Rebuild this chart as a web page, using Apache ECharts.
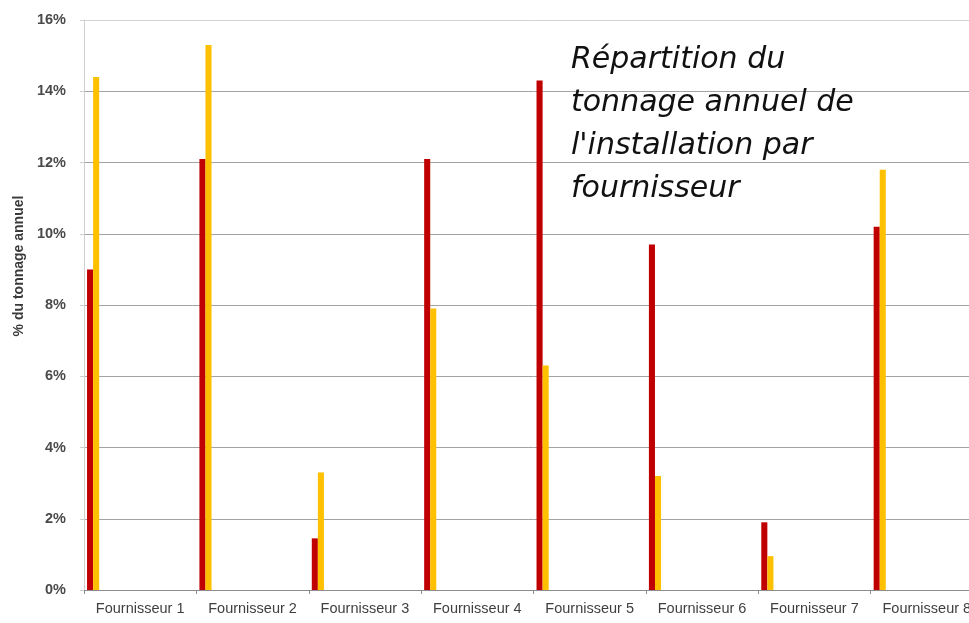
<!DOCTYPE html>
<html>
<head>
<meta charset="utf-8">
<script src="https://cdn.jsdelivr.net/npm/echarts@6/dist/echarts.min.js"></script>
<style>
html,body{margin:0;padding:0;background:#fff;overflow:hidden;width:969px;height:623px;}
#chart{width:1000px;height:623px;}
</style>
</head>
<body>
<div id="chart"></div>
<script>
var categories = ['Fournisseur 1','Fournisseur 2','Fournisseur 3','Fournisseur 4','Fournisseur 5','Fournisseur 6','Fournisseur 7','Fournisseur 8'];
var seriesRed = [9.0, 12.1, 1.45, 12.1, 14.3, 9.7, 1.9, 10.2];
var seriesOrange = [14.4, 15.3, 3.3, 7.9, 6.3, 3.2, 0.95, 11.8];
var emptySlot = [null, null, null, null, null, null, null, null];
var yTicks = [0, 2, 4, 6, 8, 10, 12, 14, 16];

var chart = echarts.init(document.getElementById('chart'), null, {renderer: 'canvas'});
chart.setOption({
  animation: false,
  backgroundColor: '#ffffff',
  title: {
    text: 'Répartition du\ntonnage annuel de\nl\'installation par\nfournisseur',
    left: 566,
    top: 34,
    textStyle: {
      fontFamily: 'DejaVu Sans',
      fontStyle: 'italic',
      fontWeight: 'normal',
      fontSize: 30,
      lineHeight: 43,
      color: '#111111'
    }
  },
  grid: {left: 84, top: 20, width: 899, bottom: 33, containLabel: false},
  xAxis: {
    type: 'category',
    data: categories,
    axisLine: {show: true, lineStyle: {color: '#8c8c8c', width: 1}},
    axisTick: {show: true, length: 4, lineStyle: {color: '#8c8c8c'}},
    axisLabel: {
      interval: 0,
      margin: 11,
      fontFamily: 'Liberation Sans',
      fontSize: 14.5,
      color: '#3f3f3f'
    },
    splitLine: {show: false}
  },
  yAxis: {
    type: 'value',
    min: yTicks[0],
    max: yTicks[yTicks.length - 1],
    interval: 2,
    name: '% du tonnage annuel',
    nameLocation: 'middle',
    nameGap: 54,
    nameRotate: 90,
    nameTextStyle: {fontFamily: 'Liberation Sans', fontSize: 14, fontWeight: 'bold', color: '#3a3a3a', padding: [0, 0, 0, 78]},
    axisLine: {show: true, lineStyle: {color: '#cfcfcf', width: 1}},
    axisTick: {show: true, length: 4, lineStyle: {color: '#cfcfcf'}},
    axisLabel: {
      formatter: '{value}%',
      margin: 18,
      fontFamily: 'Liberation Sans',
      fontSize: 14.5,
      fontWeight: 'bold',
      color: '#4a4a4a'
    },
    splitLine: {show: true, lineStyle: {color: ['#a3a3a3','#a3a3a3','#a3a3a3','#a3a3a3','#a3a3a3','#a3a3a3','#a3a3a3','#a3a3a3','#d2d2d2'], width: 1}}
  },
  series: [
    {
      name: 'Série 1',
      type: 'bar',
      data: seriesRed,
      barWidth: '5.4%',
      barGap: '0%',
      itemStyle: {color: '#c00000'}
    },
    {
      name: 'Série 2',
      type: 'bar',
      data: seriesOrange,
      barWidth: '5.4%',
      barGap: '0%',
      itemStyle: {color: '#ffc000'}
    },
    {
      name: 'vide',
      type: 'bar',
      data: emptySlot,
      barWidth: '83.8%',
      barGap: '0%',
      itemStyle: {color: 'rgba(0,0,0,0)'}
    }
  ]
});
</script>
</body>
</html>
